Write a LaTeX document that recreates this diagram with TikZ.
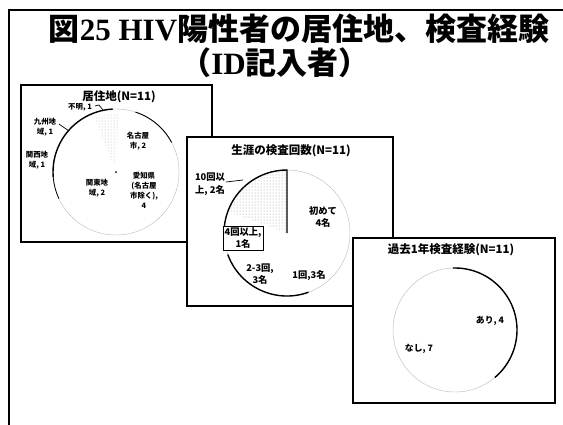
\documentclass[tikz,border=0pt]{standalone}
\usepackage{fontspec}
\setmainfont{Liberation Serif}
\newfontfamily\jp{Noto Sans CJK JP}
\usetikzlibrary{patterns}
\tikzset{
  frame/.style={draw=black, line width=1.5pt},
  panel/.style={draw=black, fill=white, line width=1.2pt},
  faint/.style={draw=gray!50, line width=0.45pt},
  dark/.style={draw=black, line width=1.4pt},
  ptitle/.style={font=\jp\bfseries\fontsize{11.5}{13}\selectfont, inner sep=0pt},
  labA/.style={font=\jp\bfseries\fontsize{7.4}{10}\selectfont, align=center, inner sep=0pt},
  labB/.style={font=\jp\bfseries\fontsize{9.3}{12.5}\selectfont, align=center, inner sep=0pt},
  labC/.style={font=\jp\bfseries\fontsize{8.8}{10}\selectfont, align=center, inner sep=0pt},
  ttl/.style={font=\bfseries\fontsize{31}{34}\selectfont, inner sep=0pt},
  lead/.style={draw=black, line width=0.7pt}
}
\begin{document}
\begin{tikzpicture}[x=1pt,y=1pt]
\useasboundingbox (0,0) rectangle (563,-424);
\fill[white] (0,0) rectangle (563,-424);
% outer frame
\draw[frame] (9,-432) -- (9,-10) -- (570,-10);
% title
\node[ttl] (t1) at (299,-29) {{\jp 図}25 HIV{\jp 陽性者の居住地、検査経験}};
\node[ttl] (t2) at (275,-63) {{\jp （}ID{\jp 記入者）}};

% ---------- panel 1 ----------
\draw[panel] (21,-85) rectangle (212,-242);
\coordinate (c1) at (116,-172);
\draw[faint] (c1) circle[radius=63];
\fill[pattern=dots, pattern color=gray!60] (c1) -- ++(88:58) arc[start angle=88, end angle=112, radius=58] -- cycle;
\fill[white] (c1) circle[radius=9];
\draw[dark] (c1) ++(93:63) arc[start angle=93, end angle=185, radius=63];
\draw[black, line width=0.8pt] (c1) ++(185:63) arc[start angle=185, end angle=205, radius=63];
\draw[black, line width=0.9pt] (c1) ++(28:63) arc[start angle=28, end angle=72, radius=63];
\fill (c1) circle[radius=1];
\node[ptitle] (p1t) at (119,-97) {居住地(N=11)};
\node[labA] (l11) at (80,-107) {不明, 1};
\node[labA] (l12) at (45,-127) {九州地\\域, 1};
\node[labA] (l13) at (37,-160) {関西地\\域, 1};
\node[labA] (l14) at (97,-188) {関東地\\域, 2};
\node[labA] (l15) at (138,-141) {名古屋\\市, 2};
\node[labA] (l16) at (144,-190) {愛知県\\(名古屋\\市除く),\\4};
\coordinate (k11a) at (95,-106);
\coordinate (k11b) at (99,-105);
\coordinate (k11) at (103,-110);
\coordinate (k12a) at (59,-124);
\coordinate (k12) at (69,-131);
\draw[lead] (k11a) -- (k11b) -- (k11);
\draw[lead] (k12a) -- (k12);

% ---------- panel 2 ----------
\draw[panel] (187,-137) rectangle (393,-306);
\coordinate (c2) at (287,-233);
\draw[faint] (c2) circle[radius=63];
\fill[pattern=dots, pattern color=gray!80] (c2) -- ++(90:63) arc[start angle=90, end angle=160, radius=63] -- cycle;
\draw[dark] (c2) -- ++(90:63) arc[start angle=90, end angle=190, radius=63];
\draw[dark] (c2) ++(200:63) arc[start angle=200, end angle=290, radius=63];
\node[ptitle] (p2t) at (291,-151) {生涯の検査回数(N=11)};
\node[labB] (l21) at (210,-184) {10回以\\上, 2名};
\node[labB] (l22) at (323,-217) {初めて\\4名};
\node[labB, draw=black, line width=0.7pt, fill=white, inner sep=1.5pt, minimum width=35pt, minimum height=20pt] (l23) at (243,-238) {4回以上,\\1名};
\node[labB] (l24) at (260,-274) {2-3回,\\3名};
\node[labB] (l25) at (309,-276) {1回,3名};
\coordinate (k21a) at (226,-182);
\coordinate (k21) at (243,-180);
\draw[lead] (k21a) -- (k21);

% ---------- panel 3 ----------
\draw[panel] (353,-238) rectangle (555,-403);
\coordinate (c3) at (455,-330);
\draw[faint] (c3) circle[radius=62];
\draw[dark] (c3) ++(92:62) arc[start angle=92, end angle=-50, radius=62];
\node[ptitle] (p3t) at (451,-250) {過去1年検査経験(N=11)};
\node[labC] (l31) at (490,-321) {あり, 4};
\node[labC] (l32) at (419,-349) {なし, 7};
\end{tikzpicture}
\end{document}
